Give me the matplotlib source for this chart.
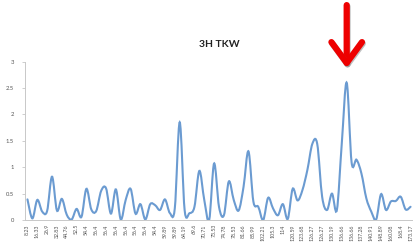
import numpy as np
import matplotlib
matplotlib.use("Agg")
import matplotlib.pyplot as plt
from matplotlib.path import Path
from matplotlib.patches import PathPatch
import matplotlib.patheffects as pe

plt.rcParams['font.family'] = ['Lato', 'DejaVu Sans']

# values (one per category)
values = [0.39, 0.03, 0.38, 0.16, 0.17, 0.82, 0.18, 0.40, 0.10, 0.01,
          0.21, 0.06, 0.59, 0.20, 0.17, 0.55, 0.60, 0.12, 0.58, 0.01,
          0.38, 0.59, 0.12, 0.30, 0.01, 0.30, 0.28, 0.19, 0.39, 0.13,
          0.22, 1.85, 0.19, 0.13, 0.25, 0.93, 0.38, 0.00, 1.07, 0.25,
          0.09, 0.73, 0.38, 0.18, 0.63, 1.30, 0.35, 0.25, 0.00, 0.42,
          0.22, 0.09, 0.30, 0.02, 0.59, 0.37, 0.57, 0.95, 1.44, 1.44,
          0.44, 0.19, 0.50, 0.19, 1.45, 2.60, 1.09, 1.14, 0.88, 0.41,
          0.16, 0.01, 0.49, 0.19, 0.35, 0.36, 0.44, 0.20, 0.25]

# category labels shown on every other point
tick_labels = ["8.23", "16.33", "26.9", "32.83", "44.76", "52.5", "54.4",
               "56.4", "56.4", "56.4", "56.4", "56.4", "56.4", "54.4",
               "59.89", "59.89", "64.19", "69.6", "70.71", "73.53", "74.78",
               "78.53", "81.66", "85.99", "102.21", "105.3", "114", "120.59",
               "123.68", "126.27", "126.27", "130.19", "136.66", "136.66",
               "137.28", "140.91", "148.89", "160.08", "168.4", "173.17"]
y_ticks = [0, 0.5, 1, 1.5, 2, 2.5, 3]
y_tick_labels = ["0", "0.5", "1", "1.5", "2", "2.5", "3"]


def smooth_path(x, y):
    """Catmull-Rom -> Bezier, like Excel's smoothed line"""
    pts = np.column_stack([x, y])
    p = np.vstack([pts[0], pts, pts[-1]])
    verts = [pts[0]]
    codes = [Path.MOVETO]
    for i in range(1, len(p) - 2):
        c1 = p[i] + (p[i + 1] - p[i - 1]) / 6.0
        c2 = p[i + 1] - (p[i + 2] - p[i]) / 6.0
        verts += [c1, c2, p[i + 1]]
        codes += [Path.CURVE4] * 3
    return Path(verts, codes)


fig = plt.figure(figsize=(4.14, 2.5), dpi=100)
ax = fig.add_axes([25 / 414, 0.12, 388 / 414, 0.634])

x = np.arange(len(values))
ax.add_patch(PathPatch(smooth_path(x, values), fill=False,
                       edgecolor="#6b9bd1", lw=1.5, capstyle="round"))

ax.set_xlim(-0.5, len(values) - 0.5)
ax.set_ylim(0, 3)
ax.set_xticks(x[::2])
ax.set_xticklabels(tick_labels, rotation=90, fontsize=3.8, color="#555555")
ax.set_yticks(y_ticks)
ax.set_yticklabels(y_tick_labels, fontsize=4.2, color="#555555")
ax.tick_params(axis="x", length=0, pad=3)
ax.tick_params(axis="y", length=2, width=0.5, color="#bbbbbb", pad=6)

for s in ["top", "right"]:
    ax.spines[s].set_visible(False)
ax.spines["left"].set_color("#c8c8c8")
ax.spines["bottom"].set_color("#c8c8c8")
ax.spines["left"].set_linewidth(0.7)
ax.spines["bottom"].set_linewidth(0.7)

fig.text(ax.get_position().x0 + ax.get_position().width / 2, 1 - 45 / 250,
         "3H TKW", ha="center", va="center", fontsize=7.5, fontweight="bold",
         color="#222222")

# red arrow pointing at the highest peak
peak = int(np.argmax(values))
ax.annotate("", xy=(peak, 2.82), xytext=(peak, 4.12),
            arrowprops=dict(arrowstyle="->,head_length=0.75,head_width=0.55",
                            color="#ee0000", lw=4.5, mutation_scale=20,
                            capstyle="round", joinstyle="round",
                            path_effects=[pe.SimpleLineShadow(
                                offset=(0.6, -1.0), shadow_color="gray",
                                alpha=0.5), pe.Normal()]),
            annotation_clip=False)

fig.savefig("out.png", dpi=100)
